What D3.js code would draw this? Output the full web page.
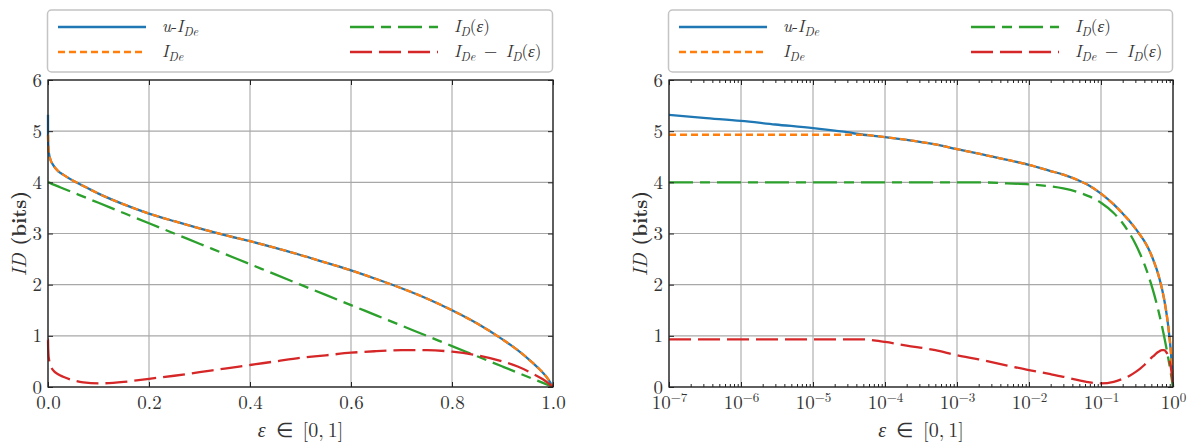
<!DOCTYPE html>
<html>
<head>
<meta charset="utf-8">
<script src="https://cdn.jsdelivr.net/npm/d3@7"></script>
<style>
body{margin:0;background:#fff;}
</style>
</head>
<body>
<div id="chart"></div>
<script>
const width = 1188;
const height = 442;
const FONT = '"Latin Modern Roman", "Liberation Serif", serif';

// epsilon samples (shared by both panels)
const eps = [1e-7, 3e-7, 1e-6, 3e-6, 1e-5, 2e-5, 3e-5, 4e-5, 5e-5, 7e-5,
  1e-4, 2e-4, 5e-4, 1e-3, 2e-3, 5e-3, 0.01, 0.02, 0.03, 0.05,
  0.07, 0.1, 0.15, 0.2, 0.25, 0.3, 0.35, 0.4, 0.45, 0.5,
  0.55, 0.6, 0.65, 0.7, 0.75, 0.8, 0.85, 0.9, 0.93, 0.96,
  0.98, 0.99, 1.0];
const uIDe = [5.32, 5.26, 5.20, 5.13, 5.06, 5.01, 4.98, 4.95, 4.93, 4.91,
  4.885, 4.83, 4.74, 4.65, 4.56, 4.44, 4.34, 4.22, 4.15, 4.03,
  3.93, 3.78, 3.57, 3.39, 3.24, 3.10, 2.97, 2.85, 2.72, 2.58,
  2.43, 2.28, 2.11, 1.93, 1.73, 1.50, 1.24, 0.93, 0.72, 0.47,
  0.28, 0.16, 0.0];
const IDe = [4.93, 4.93, 4.93, 4.93, 4.93, 4.93, 4.93, 4.93, 4.93, 4.91,
  4.885, 4.83, 4.74, 4.65, 4.56, 4.44, 4.34, 4.22, 4.15, 4.03,
  3.93, 3.78, 3.57, 3.39, 3.24, 3.10, 2.97, 2.85, 2.72, 2.58,
  2.43, 2.28, 2.11, 1.93, 1.73, 1.50, 1.24, 0.93, 0.72, 0.47,
  0.28, 0.16, 0.0];
const IDeps = [4.0, 4.0, 4.0, 4.0, 4.0, 4.0, 4.0, 4.0, 4.0, 4.0,
  4.0, 4.0, 4.0, 4.0, 4.0, 3.98, 3.96, 3.92, 3.88, 3.8,
  3.72, 3.6, 3.4, 3.2, 3.0, 2.8, 2.6, 2.4, 2.2, 2.0,
  1.8, 1.6, 1.4, 1.2, 1.0, 0.8, 0.6, 0.4, 0.28, 0.16,
  0.08, 0.04, 0.0];
const diff = [0.93, 0.93, 0.93, 0.93, 0.93, 0.93, 0.93, 0.93, 0.93, 0.91,
  0.88, 0.81, 0.72, 0.62, 0.54, 0.42, 0.33, 0.25, 0.2, 0.13,
  0.09, 0.07, 0.1, 0.16, 0.22, 0.29, 0.36, 0.43, 0.5, 0.57,
  0.62, 0.67, 0.7, 0.72, 0.72, 0.69, 0.62, 0.5, 0.4, 0.26,
  0.15, 0.08, 0.0];

const linTicks = [0, 0.2, 0.4, 0.6, 0.8, 1.0];
const logTicks = [1e-7, 1e-6, 1e-5, 1e-4, 1e-3, 1e-2, 1e-1, 1];
const yTicks = [0, 1, 2, 3, 4, 5, 6];

// series styles
const series = [
  {key:'u', values:uIDe, color:'#1f77b4', dash:null},
  {key:'de', values:IDe, color:'#ff7f0e', dash:'7,4'},
  {key:'d', values:IDeps, color:'#2ca02c', dash:'24,7,10,7'},
  {key:'diff', values:diff, color:'#d62728', dash:'22,7'}
];

// legend labels as [text, italic, subscript] parts
const legendLabels = {
  u:   [['u',1,0],['-',0,0],['I',1,0],['De',1,1]],
  de:  [['I',1,0],['De',1,1]],
  d:   [['I',1,0],['D',1,1],['(',0,0],['ε',1,0],[')',0,0]],
  diff:[['I',1,0],['De',1,1],['\u2002−\u2002',0,0],['I',1,0],['D',1,1],['(',0,0],['ε',1,0],[')',0,0]]
};

const svg = d3.select("#chart").append("svg")
  .attr("width", width)
  .attr("height", height);

const y = d3.scaleLinear().domain([0, 6]).range([387, 80]);

function addParts(text, parts, size){
  parts.forEach((p, i)=>{
    const t = text.append('tspan')
      .text(p[0])
      .style('font-style', p[1] ? 'italic' : 'normal');
    if(p[2]){
      t.attr('font-size', size*0.72).attr('dy', 4);
    } else {
      t.attr('font-size', size);
      if(i>0 && parts[i-1][2]) t.attr('dy', -4);
    }
  });
}

function drawPanel(x, isLog){
  const [x0, x1] = x.range();
  const g = svg.append('g');

  // grid
  const vgrid = isLog ? logTicks : linTicks;
  g.append('g').selectAll('line').data(vgrid).enter().append('line')
    .attr('x1', d=>x(d)).attr('x2', d=>x(d))
    .attr('y1', y(0)).attr('y2', y(6))
    .attr('stroke', '#a8a8a8').attr('stroke-width', 1.1);
  g.append('g').selectAll('line').data(yTicks).enter().append('line')
    .attr('x1', x0).attr('x2', x1)
    .attr('y1', d=>y(d)).attr('y2', d=>y(d))
    .attr('stroke', '#a8a8a8').attr('stroke-width', 1.1);

  // curves
  const line = d3.line()
    .x((d,i)=>x(eps[i]))
    .y(d=>y(d))
    .curve(d3.curveMonotoneX);
  series.forEach(s=>{
    g.append('path')
      .attr('d', line(s.values))
      .attr('fill', 'none')
      .attr('stroke', s.color)
      .attr('stroke-width', 2.3)
      .attr('stroke-dasharray', s.dash);
  });

  // axes with inward ticks
  const bottom = isLog
    ? d3.axisBottom(x).tickValues(logTicks).tickFormat(()=>'')
    : d3.axisBottom(x).tickValues(linTicks).tickFormat(d3.format('.1f'));
  const styleAxis = sel=>{
    sel.select('.domain').remove();
    sel.attr('font-family', null);
    sel.selectAll('line').attr('stroke', '#222').attr('stroke-width', 1);
    sel.selectAll('text').attr('fill', '#333').attr('font-size', 19);
  };
  const bAx = g.append('g').attr('transform', `translate(0,${y(0)})`)
    .call(bottom.tickSize(-5).tickSizeOuter(0).tickPadding(9))
    .call(styleAxis);
  if(isLog){
    bAx.selectAll('.tick text').each(function(d){
      const t = d3.select(this);
      const p = Math.round(Math.log10(d));
      t.append('tspan').text('10');
      t.append('tspan').attr('dy', -8).attr('font-size', 13)
        .text(p === 0 ? '0' : '−' + (-p));
    });
    const minor = x.ticks().filter(d=>logTicks.indexOf(d) < 0);
    g.append('g').attr('transform', `translate(0,${y(0)})`)
      .call(d3.axisBottom(x).tickValues(minor).tickFormat('').tickSize(-3).tickSizeOuter(0))
      .call(styleAxis);
    g.append('g').attr('transform', `translate(0,${y(6)})`)
      .call(d3.axisTop(x).tickValues(minor).tickFormat('').tickSize(-3).tickSizeOuter(0))
      .call(styleAxis);
  }
  g.append('g').attr('transform', `translate(0,${y(6)})`)
    .call(d3.axisTop(x).tickValues(isLog ? logTicks : linTicks).tickFormat('').tickSize(-5).tickSizeOuter(0))
    .call(styleAxis);
  g.append('g').attr('transform', `translate(${x0},0)`)
    .call(d3.axisLeft(y).tickValues(yTicks).tickFormat(d3.format('d')).tickSize(-5).tickSizeOuter(0).tickPadding(6))
    .call(styleAxis);
  g.append('g').attr('transform', `translate(${x1},0)`)
    .call(d3.axisRight(y).tickValues(yTicks).tickFormat('').tickSize(-5).tickSizeOuter(0))
    .call(styleAxis);

  // frame
  g.append('rect')
    .attr('x', x0).attr('y', y(6))
    .attr('width', x1 - x0).attr('height', y(0) - y(6))
    .attr('fill', 'none').attr('stroke', '#222').attr('stroke-width', 1.3);

  // axis labels
  const xl = g.append('text')
    .attr('x', (x0 + x1)/2).attr('y', 437)
    .attr('text-anchor', 'middle').attr('fill', '#333');
  addParts(xl, [['ε',1,0],['\u2002∈\u2002[0,\u20091]',0,0]], 20);

  const yl = g.append('text')
    .attr('transform', `translate(${x0 - 22},${(y(0)+y(6))/2}) rotate(-90)`)
    .attr('text-anchor', 'middle').attr('fill', '#333')
    .attr('font-size', 20);
  yl.append('tspan').style('font-style', 'italic').text('ID');
  yl.append('tspan').attr('font-weight', 'bold').text(' (bits)');

  // legend
  const lg = g.append('g');
  lg.append('rect')
    .attr('x', x0 - 0.5).attr('y', 10)
    .attr('width', x1 - x0).attr('height', 62)
    .attr('rx', 4)
    .attr('fill', '#fff').attr('stroke', '#c4c4c4').attr('stroke-width', 1.5);
  const cols = [x0 + 10, x0 + 302];
  series.forEach((s, i)=>{
    const cx = cols[i < 2 ? 0 : 1];
    const cy = i % 2 === 0 ? 27 : 52;
    lg.append('line')
      .attr('x1', cx).attr('x2', cx + 88)
      .attr('y1', cy).attr('y2', cy)
      .attr('stroke', s.color).attr('stroke-width', 2.5)
      .attr('stroke-dasharray', s.dash);
    const t = lg.append('text')
      .attr('x', cx + 104).attr('y', cy + 5)
      .attr('fill', '#333');
    addParts(t, legendLabels[s.key], 17);
  });
}

drawPanel(d3.scaleLinear().domain([0, 1]).range([48, 553]), false);
drawPanel(d3.scaleLog().domain([1e-7, 1]).range([669, 1173]), true);

svg.selectAll('text').style('font-family', FONT);
</script>
</body>
</html>
